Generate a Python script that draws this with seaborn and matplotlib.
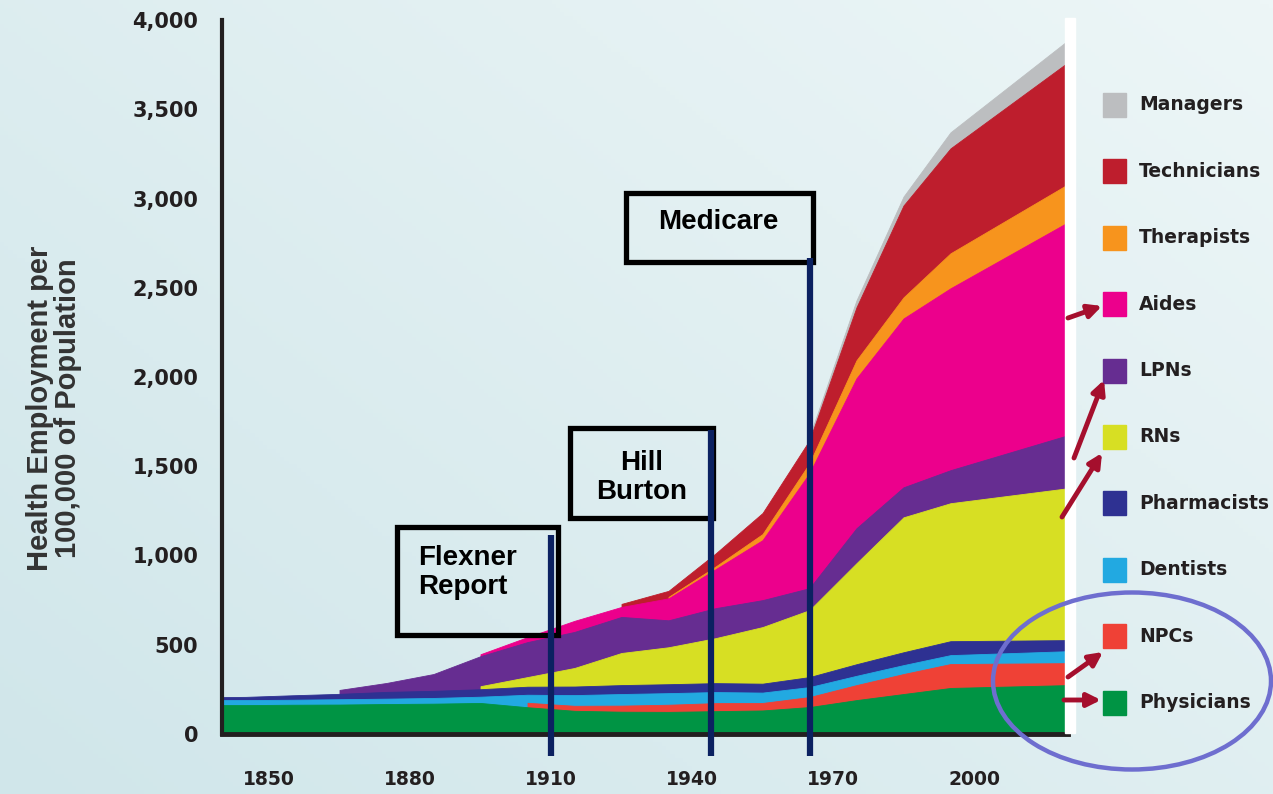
import numpy as np
import pandas as pd
import seaborn as sns
import matplotlib.pyplot as plt
from matplotlib.patches import Rectangle, Ellipse, FancyArrowPatch
from matplotlib.colors import LinearSegmentedColormap
from matplotlib.ticker import FuncFormatter
from matplotlib import font_manager

nan = np.nan

# Health employment per 100,000 population
years = [1840, 1845, 1855, 1865, 1875, 1885, 1895, 1905, 1915, 1925, 1935, 1945, 1955, 1965, 1975, 1985, 1995, 2020]
physicians = [162, 162, 164, 165, 168, 170, 174, 150, 130, 125, 124, 128, 132, 151, 190, 224, 258, 274]
npcs = [nan, nan, nan, nan, nan, nan, nan, 25, 28, 34, 40, 45, 42, 56, 84, 112, 134, 123]
dentists = [28, 28, 28, 30, 30, 32, 35, 45, 60, 65, 65, 62, 58, 56, 52, 50, 50, 67]
pharmacists = [17, 18, 25, 30, 38, 40, 42, 45, 48, 50, 50, 50, 50, 56, 65, 72, 78, 62]
rns = [nan, nan, nan, nan, nan, nan, 17, 54, 104, 180, 207, 252, 317, 375, 566, 756, 773, 851]
lpns = [nan, nan, nan, 22, 50, 94, 168, 196, 202, 202, 151, 168, 151, 123, 196, 168, 185, 297]
aides = [nan, nan, nan, nan, nan, nan, 11, 28, 62, 56, 123, 218, 336, 644, 840, 946, 1019, 1193]
therapists = [nan, nan, nan, nan, nan, nan, nan, nan, nan, nan, 8, 15, 34, 56, 101, 118, 196, 213]
technicians = [nan, nan, nan, nan, nan, nan, nan, nan, nan, 17, 34, 73, 118, 129, 297, 515, 588, 683]
managers = [nan, nan, nan, nan, nan, nan, nan, nan, nan, nan, nan, nan, nan, 20, 39, 50, 90, 123]

occupations = ["Physicians", "NPCs", "Dentists", "Pharmacists", "RNs",
               "LPNs", "Aides", "Therapists", "Technicians", "Managers"]
colors = ["#009444", "#ef4136", "#22a9e1", "#2e3192", "#d7df23",
          "#662d91", "#ec008c", "#f7941d", "#be1e2d", "#bcbec0"]

events = ["Flexner\nReport", "Hill\nBurton", "Medicare"]
event_years = [1910, 1944, 1965]

df = pd.DataFrame({
    "Physicians": physicians, "NPCs": npcs, "Dentists": dentists,
    "Pharmacists": pharmacists, "RNs": rns, "LPNs": lpns, "Aides": aides,
    "Therapists": therapists, "Technicians": technicians, "Managers": managers,
}, index=years)

sns.set_theme(style="white")
dark = "#231f20"

fig = plt.figure(figsize=(12.73, 7.94), dpi=100)

# soft blue gradient background
bg = fig.add_axes([0, 0, 1, 1], zorder=-10)
xx, yy = np.meshgrid(np.linspace(0, 1, 300), np.linspace(1, 0, 200))
grad = 0.55 * xx + 0.45 * yy
cmap = LinearSegmentedColormap.from_list("bg", ["#d0e6ea", "#edf6f7"])
bg.imshow(grad, cmap=cmap, aspect="auto", extent=[0, 1, 0, 1])
bg.axis("off")

W, H = 1273, 794
def fx(px):
    return px / W
def fy(py):
    return 1 - py / H

ax = fig.add_axes([fx(222), fy(734), fx(1068) - fx(222), fy(20) - fy(734)])
ax.set_zorder(1)
ax.patch.set_alpha(0)

# stacked areas, painted top layer first down to zero so later starters
# leave no gaps (the layer above fills them, as in the original)
tops = df.fillna(0).cumsum(axis=1)
for name, color in list(zip(occupations, colors))[::-1]:
    valid = df[name].notna()
    top = tops[name].where(valid)
    ax.fill_between(df.index, 0, top, color=color, lw=0.6, edgecolor=color, zorder=2)

ax.set_xlim(1840, 2020)
ax.set_ylim(0, 4000)

ax.set_xticks(range(1850, 2001, 30))
ax.set_xticks(range(1840, 2021, 10), minor=True)
ax.set_yticks(range(0, 4001, 500))
ax.yaxis.set_major_formatter(FuncFormatter(lambda v, p: f"{int(v):,}"))

for side in ["top", "right"]:
    ax.spines[side].set_visible(False)
ax.spines["left"].set_linewidth(3)
ax.spines["bottom"].set_linewidth(3.5)
ax.spines["left"].set_color(dark)
ax.spines["bottom"].set_color(dark)

ax.tick_params(axis="x", which="major", direction="out", length=8, width=3.5,
               color=dark, pad=18, labelsize=13.5, labelcolor=dark)
ax.tick_params(axis="x", which="minor", direction="out", length=8, width=2.2, color=dark)
ax.tick_params(axis="y", which="major", direction="out", length=7, width=2.2,
               color=dark, pad=10, labelsize=15, labelcolor=dark)
for lab in ax.get_xticklabels() + ax.get_yticklabels():
    lab.set_fontweight("bold")
    lab.set_family("DejaVu Sans")

# y label in a narrow bold face when one is installed
narrow_bold = any(f.name == "Liberation Sans Narrow" and f.weight in ("bold", 700)
                  for f in font_manager.fontManager.ttflist)
if narrow_bold:
    ylab_family, ylab_size = "Liberation Sans Narrow", 26
else:
    ylab_family, ylab_size = "Liberation Sans", 21
fig.text(fx(54), fy(408), "Health Employment per\n100,000 of Population",
         rotation=90, ha="center", va="center", multialignment="center",
         fontsize=ylab_size, fontweight="bold", family=ylab_family,
         color="#333333", linespacing=1.0)

# policy event markers
line_tops = [1114, 1702, 2666]
boxes = [(1877.2, 554, 34.3, 605), (1914.0, 1210, 30.5, 504), (1926.0, 2643, 39.7, 387)]
navy = "#0b2161"
for yr, ytop in zip(event_years, line_tops):
    ax.plot([yr, yr], [-125, ytop], color=navy, lw=4.5, solid_capstyle="butt",
            clip_on=False, zorder=5)
for (bx, by, bw, bh) in boxes:
    ax.add_patch(Rectangle((bx, by), bw, bh, fill=False, ec="black", lw=3.8,
                           zorder=4, clip_on=False))
ax.text(1881.7, 906, events[0], ha="left", va="center", fontsize=20,
        fontweight="bold", family="Liberation Sans", color="black", zorder=6,
        linespacing=1.15)
ax.text(1929.2, 1439, events[1], ha="center", va="center", fontsize=20,
        fontweight="bold", family="Liberation Sans", color="black", zorder=6,
        linespacing=1.15)
ax.text(1945.7, 2867, events[2], ha="center", va="center", fontsize=20,
        fontweight="bold", family="Liberation Sans", color="black", zorder=6)

# white strip at the right edge of the plot area
fig.patches.append(Rectangle((fx(1065), fy(733)), fx(10), fy(18) - fy(733),
                             transform=fig.transFigure, color="white", zorder=5))

# legend drawn on the right
for i, (name, color) in enumerate(zip(occupations[::-1], colors[::-1])):
    cy = 105 + i * 66.4
    fig.patches.append(Rectangle((fx(1103), fy(cy + 12)), fx(23), fy(cy - 12) - fy(cy + 12),
                                 transform=fig.transFigure, color=color, zorder=6))
    fig.text(fx(1139), fy(cy), name, ha="left", va="center", fontsize=13.5,
             fontweight="bold", family="DejaVu Sans", color=dark, zorder=6)

# arrows toward highlighted occupations
arrow_red = "#a50f2d"
arrows = [((1068, 318), (1102, 306)), ((1074, 458), (1104, 380)),
          ((1062, 517), (1102, 453)), ((1068, 677), (1103, 652)),
          ((1064, 700), (1101, 700))]
for (x0, y0), (x1, y1) in arrows:
    fig.patches.append(FancyArrowPatch((fx(x0), fy(y0)), (fx(x1), fy(y1)),
                                       transform=fig.transFigure, arrowstyle="-|>",
                                       mutation_scale=20, lw=3.5, color=arrow_red,
                                       zorder=7, shrinkA=0, shrinkB=0))

fig.patches.append(Ellipse((fx(1132), fy(681)), fx(278), fy(0) - fy(177),
                           transform=fig.transFigure, fill=False, ec="#6e6ecf",
                           lw=3.2, zorder=7))

fig.savefig("out.png", dpi=100)
